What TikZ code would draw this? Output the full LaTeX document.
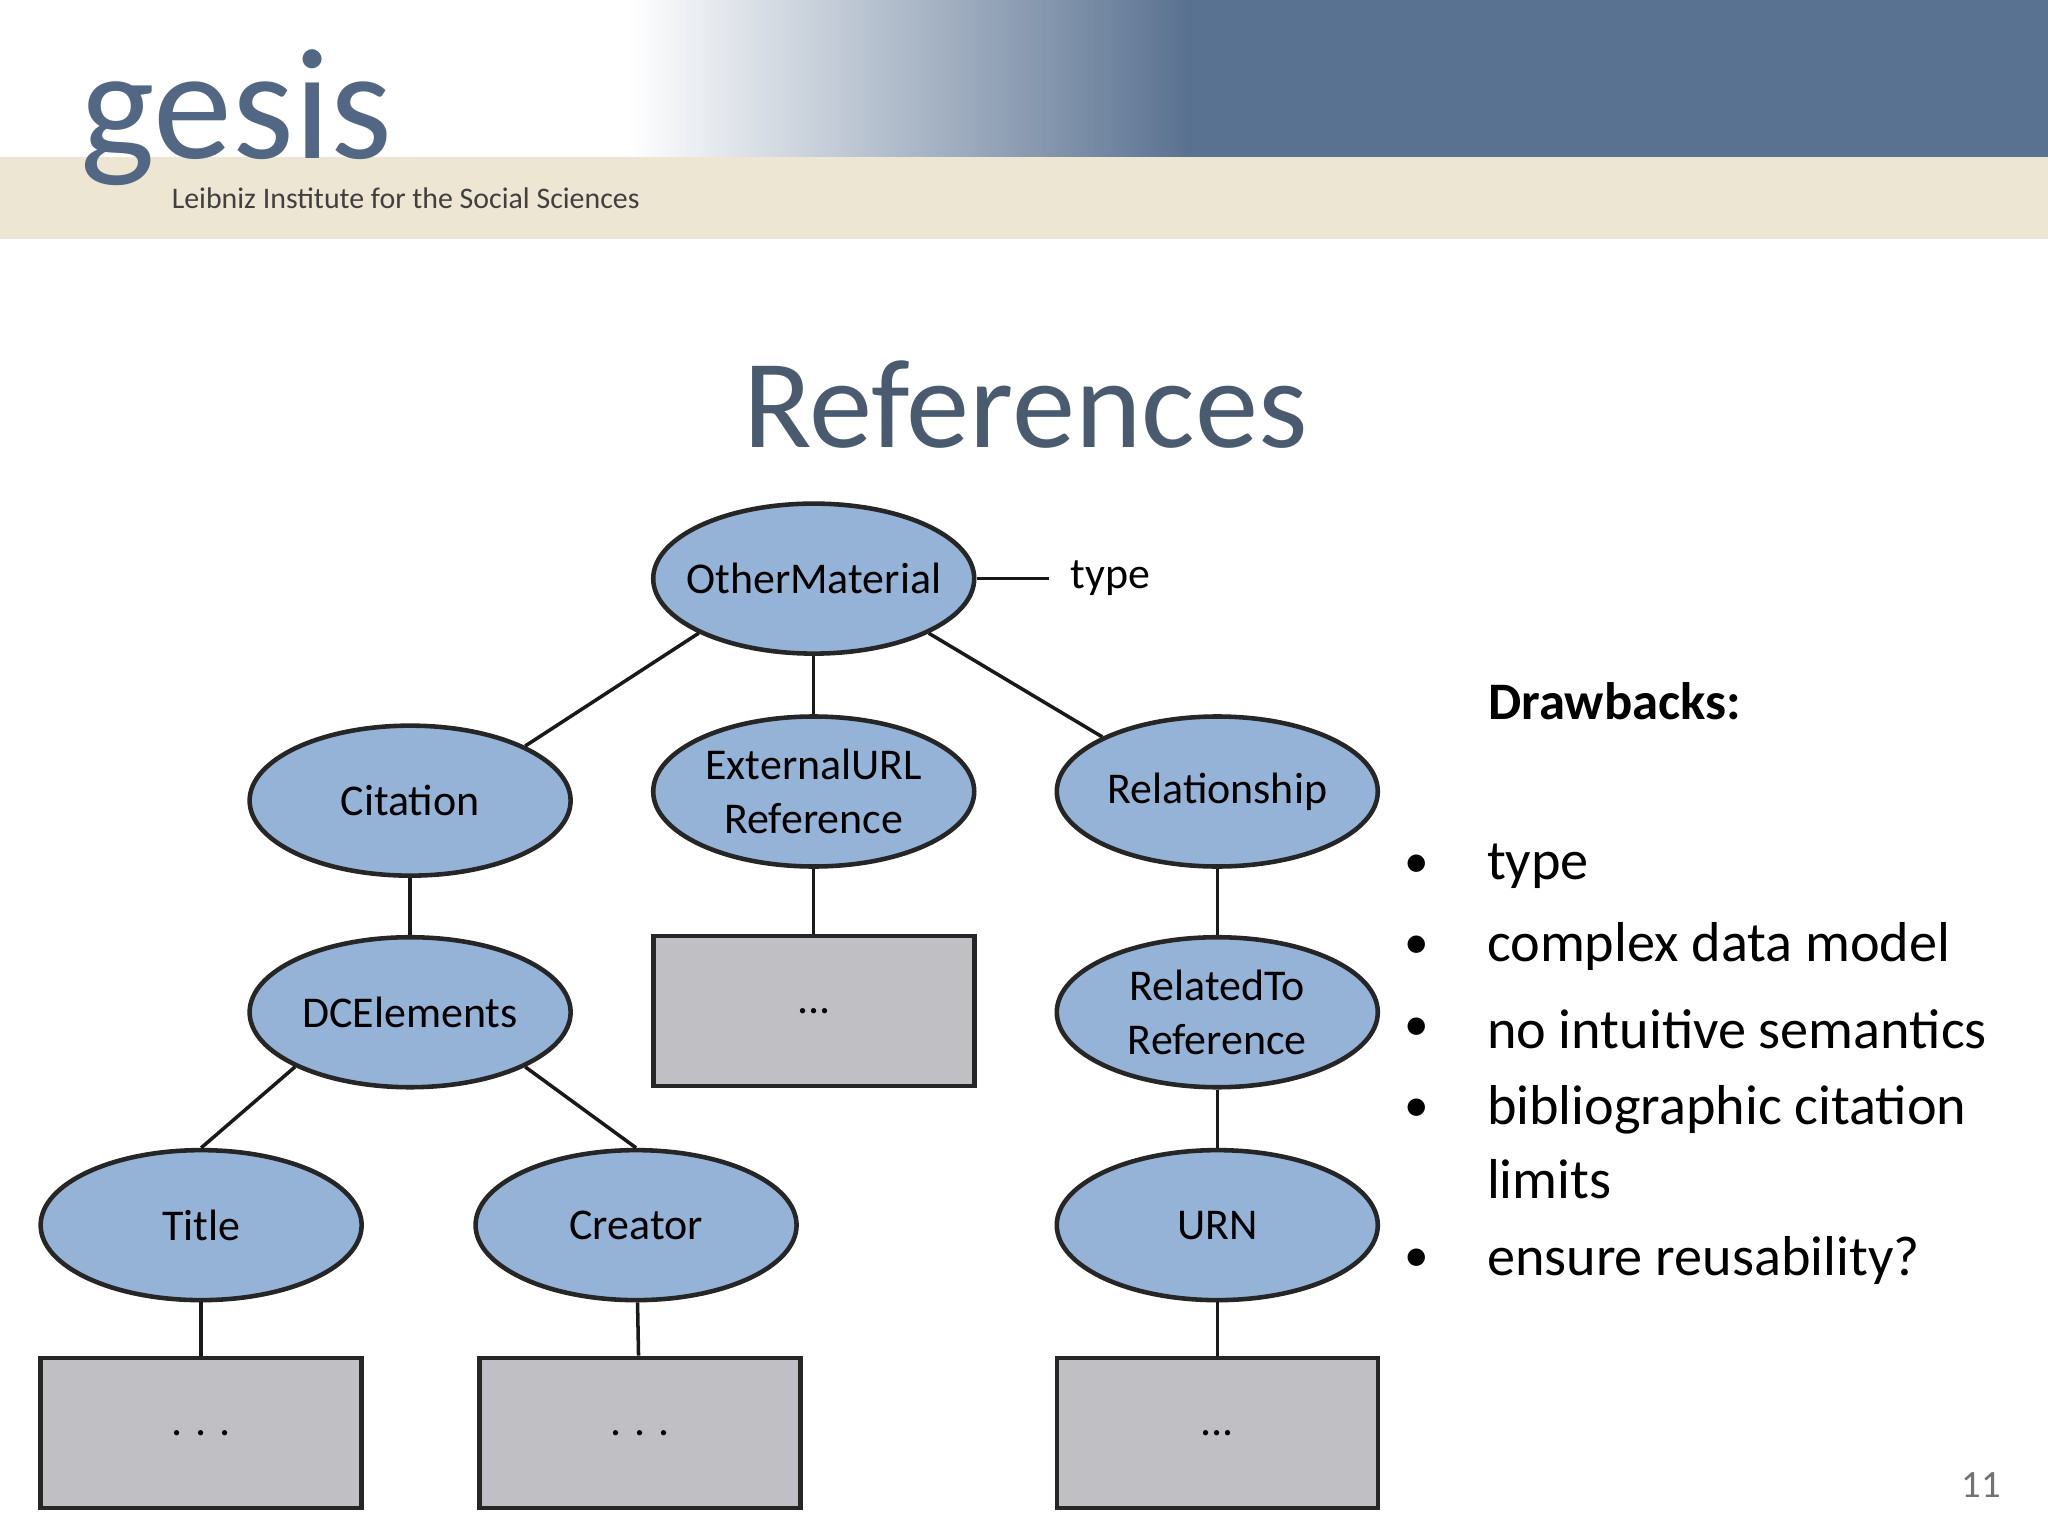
\documentclass[tikz,border=0pt]{standalone}
\usepackage{fontspec}
\setmainfont{Carlito}
\usetikzlibrary{shapes.geometric}
\definecolor{slate}{HTML}{5A7291}
\definecolor{beige}{HTML}{ECE6D3}
\definecolor{ellf}{HTML}{95B3D7}
\definecolor{boxf}{HTML}{C0BFC4}
\definecolor{titc}{HTML}{4A5B70}
\tikzset{
 ell/.style={ellipse,draw=black!85,line width=1.3pt,fill=ellf,minimum width=3.21cm,minimum height=1.5cm,inner sep=0pt,align=center,font=\fontsize{12.5}{15.5}\selectfont},
 gbox/.style={rectangle,draw=black!85,line width=1.3pt,fill=boxf,minimum width=3.21cm,minimum height=1.5cm,font=\fontsize{12.5}{15}\selectfont},
 con/.style={line width=1pt,draw=black!90},
 bul/.style={anchor=west,font=\fontsize{16}{19}\selectfont}
}
\begin{document}
\begin{tikzpicture}[x=0.013061cm,y=-0.013061cm]
\useasboundingbox (0,0) rectangle (1568,1176);
\fill[white] (0,0) rectangle (1568,1176);
\shade[left color=white,right color=slate] (480,0) rectangle (910,120);
\fill[slate] (909,0) rectangle (1568,120);
\fill[beige] (0,120) rectangle (1568,183);
\node[anchor=base west,text=slate!90!black,font=\fontsize{45}{45}\selectfont] (logo) at (52,121) {gesis};
\node[anchor=west,text=black!75,font=\fontsize{8.5}{10}\selectfont] (sub) at (122,152) {Leibniz Institute for the Social Sciences};
\node[text=titc,font=\fontsize{36}{40}\selectfont] (title) at (785,310) {References};

\node[ell] (om) at (623,443) {\makebox[0pt]{OtherMaterial}};
\node[ell] (cit) at (314,613) {Citation};
\node[ell] (ext) at (623,606) {ExternalURL\\Reference};
\node[ell] (rel) at (932,606) {\makebox[0pt]{Relationship}};
\node[ell] (dc) at (314,775) {DCElements};
\node[gbox] (b1) at (623,774) {...};
\node[ell] (rt) at (932,775) {RelatedTo\\Reference};
\node[ell] (ti) at (154,938) {Title};
\node[ell] (cr) at (487,938) {Creator};
\node[ell] (urn) at (932,938) {URN};
\node[gbox] (b2) at (154,1097) {. . .};
\node[gbox] (b3) at (490,1097) {. . .};
\node[gbox] (b4) at (932,1097) {...};
\node[anchor=west,font=\fontsize{12.5}{15}\selectfont] (ty) at (810,443) {type};
\coordinate (tye) at (803,443);

\draw[con] (om.east) -- (tye);
\draw[con] (om.south west) -- (cit.north east);
\draw[con] (om) -- (ext);
\draw[con] (om.south east) -- (rel.north west);
\draw[con] (cit) -- (dc);
\draw[con] (ext) -- (b1);
\draw[con] (rel) -- (rt);
\draw[con] (dc.south west) -- (ti.north);
\draw[con] (dc.south east) -- (cr.north);
\draw[con] (rt) -- (urn);
\draw[con] (ti) -- (b2);
\draw[con] (cr) -- (b3);
\draw[con] (urn) -- (b4);
\node[anchor=west,font=\bfseries\fontsize{15}{18}\selectfont] (db) at (1130,537) {Drawbacks:};
\foreach \yy/\tt [count=\i] in {663/type,725/complex data model,788/no intuitive semantics,850/bibliographic citation,903/limits,965/ensure reusability?}{
  \node[bul] (t\i) at (1129,\yy) {\tt};
}
\foreach \yy [count=\i] in {663,725,788,850,965}{
  \node[font=\fontsize{14}{16}\selectfont] (d\i) at (1085,\yy) {•};
}
\node[text=black!55,font=\fontsize{11}{13}\selectfont] (pg) at (1517,1137) {11};
\end{tikzpicture}
\end{document}
